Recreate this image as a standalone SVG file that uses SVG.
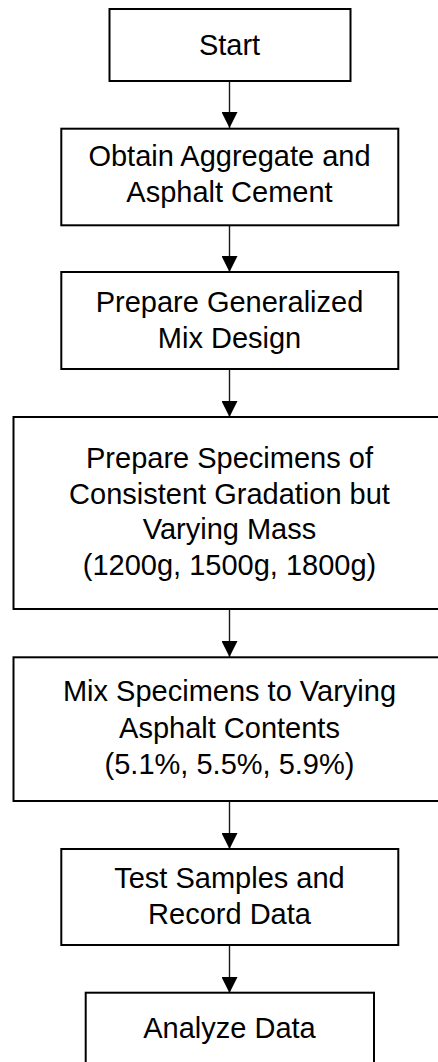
<svg xmlns="http://www.w3.org/2000/svg" width="438" height="1062" viewBox="0 0 438 1062">
<style>
.box{fill:#fff;stroke:#000;stroke-width:2}
.t{font-family:"Liberation Sans",Arial,sans-serif;font-size:29px;fill:#000;text-anchor:middle}
.c{stroke:#1a1a1a;stroke-width:1.4;fill:none}
</style>
<defs>
<marker id="ah" markerUnits="userSpaceOnUse" markerWidth="16" markerHeight="16" refX="16" refY="8" orient="auto">
<path d="M0,0 L16,8 L0,16 Z" fill="#000"/>
</marker>
</defs>
<rect width="438" height="1062" fill="#fff"/>
<g id="connectors">
<line class="c" x1="229.5" y1="81" x2="229.5" y2="128" marker-end="url(#ah)"/>
<line class="c" x1="229.5" y1="225" x2="229.5" y2="272" marker-end="url(#ah)"/>
<line class="c" x1="229.5" y1="369" x2="229.5" y2="417" marker-end="url(#ah)"/>
<line class="c" x1="229.5" y1="609" x2="229.5" y2="657" marker-end="url(#ah)"/>
<line class="c" x1="229.5" y1="801" x2="229.5" y2="849" marker-end="url(#ah)"/>
<line class="c" x1="229.5" y1="945" x2="229.5" y2="993" marker-end="url(#ah)"/>
</g>
<g id="start">
<rect class="box" x="109.5" y="9" width="241" height="72"/>
<text class="t" x="229.5" y="55">Start</text>
</g>
<g id="obtain">
<rect class="box" x="61.3" y="128.7" width="337" height="96.6"/>
<text class="t" x="229.5" y="165.7">Obtain Aggregate and</text>
<text class="t" x="229.5" y="201.7">Asphalt Cement</text>
</g>
<g id="prepare-mix">
<rect class="box" x="61.3" y="272" width="337" height="97"/>
<text class="t" x="229.5" y="311.7">Prepare Generalized</text>
<text class="t" x="229.5" y="348">Mix Design</text>
</g>
<g id="prepare-specimens">
<rect class="box" x="13.5" y="417" width="432" height="192"/>
<text class="t" x="229.5" y="467.7">Prepare Specimens of</text>
<text class="t" x="229.5" y="503.5">Consistent Gradation but</text>
<text class="t" x="229.5" y="539.3">Varying Mass</text>
<text class="t" x="229.5" y="575">(1200g, 1500g, 1800g)</text>
</g>
<g id="mix-specimens">
<rect class="box" x="13.5" y="657.3" width="432" height="143.7"/>
<text class="t" x="229.5" y="700.7">Mix Specimens to Varying</text>
<text class="t" x="229.5" y="737.5">Asphalt Contents</text>
<text class="t" x="229.5" y="774.3">(5.1%, 5.5%, 5.9%)</text>
</g>
<g id="test">
<rect class="box" x="61.3" y="849" width="337" height="96"/>
<text class="t" x="229.5" y="888.3">Test Samples and</text>
<text class="t" x="229.5" y="924.3">Record Data</text>
</g>
<g id="analyze">
<rect class="box" x="85.7" y="992.7" width="288.3" height="80"/>
<text class="t" x="229.5" y="1037.7">Analyze Data</text>
</g>
</svg>
